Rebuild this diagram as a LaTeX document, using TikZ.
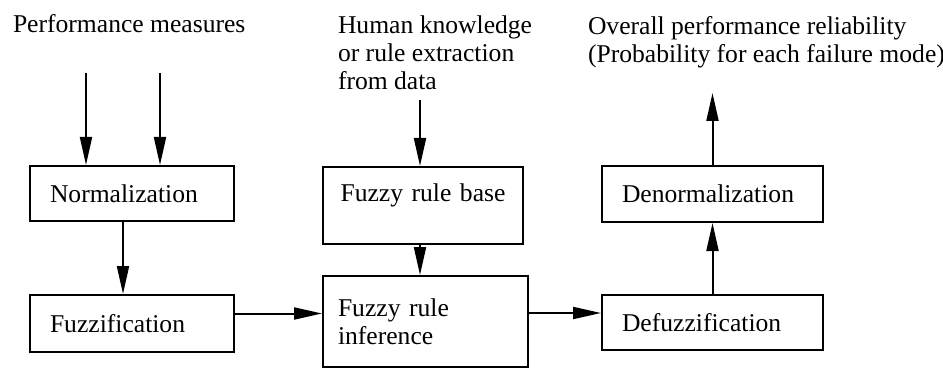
\documentclass[tikz,border=0pt]{standalone}
\usepackage{fontspec}
\setmainfont{Liberation Serif}
\usetikzlibrary{arrows.meta}
\usetikzlibrary{positioning}

\begin{document}
\begin{tikzpicture}[
    x=0.5pt, y=-0.5pt,
    line width=1pt,
every node/.style = {font=\fontsize{12.8}{14}\selectfont},
      blk/.style  = {draw, line width=1pt, align=left, inner ysep=0pt},
      arr/.style  = {line width=1pt, -{Triangle[length=14pt,width=6pt]}}]
\useasboundingbox (0,0) rectangle (943,369);
\node[anchor=base west, inner sep=0pt]             (perf)    at (12,33)  {Performance measures};
\node[anchor=north west, align=left, inner sep=0pt] (human)  at (337,15) {Human knowledge\\or rule extraction\\from data};
\node[anchor=north west, align=left, inner sep=0pt] (overall) at (587,15) {Overall performance reliability\\(Probability for each failure mode)};
\coordinate (in1) at (86,73);
\coordinate (in2) at (160,73);
\coordinate (in3) at (420,100);
\coordinate (out) at (713,93);
\node[blk, inner xsep=10pt, text width=82pt, minimum height=27.5pt]   (norm)   at (132,193.5) {Normalization};
\node[blk, inner xsep=10pt, text width=82pt, minimum height=28.5pt]   (fuzz)   at (132,323.5) {Fuzzification};
\node[blk, inner xsep=4pt, text width=92pt, align=center, anchor=north,
      inner ysep=8pt, text height=9pt, text depth=13.5pt]             (base)   at (423,166)   {Fuzzy rule base};
\node[blk, inner xsep=7.5pt, text width=87.5pt, minimum height=45.5pt] (infer) at (425.5,321.5) {Fuzzy rule\\inference};
\node[blk, inner xsep=10pt, text width=90.5pt, minimum height=28pt]   (denorm) at (712.5,194)  {Denormalization};
\node[blk, inner xsep=10pt, text width=90.5pt, minimum height=27.5pt] (defuzz) at (712.5,322.5) {Defuzzification};
    \draw[arr] (in1) -- (in1 |- norm.north);
    \draw[arr] (in2) -- (in2 |- norm.north);
    \draw[arr] ([xshift=-4.5pt]norm.south) -- ([xshift=-4.5pt]fuzz.north);
    \draw[arr] ([yshift=5pt]fuzz.east) -- ([yshift=5pt]fuzz.east -| infer.west);
    \draw[arr] (in3) -- (in3 |- base.north);
    \draw[arr] ([xshift=-1.5pt]base.south) -- ([xshift=-1.5pt]base.south |- infer.north);
    \draw[arr] ([yshift=4.25pt]infer.east) -- ([yshift=4.25pt]infer.east -| defuzz.west);
    \draw[arr] (defuzz.north) -- (denorm.south);
    \draw[arr] (denorm.north) -- (denorm.north |- out);
\end{tikzpicture}
\end{document}
